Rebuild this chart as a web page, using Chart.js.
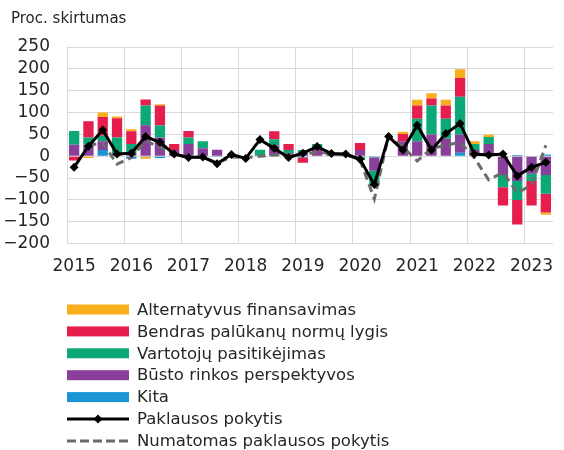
<!DOCTYPE html>
<html><head><meta charset="utf-8">
<script src="https://cdn.jsdelivr.net/npm/chart.js@4"></script>
<style>html,body{margin:0;padding:0;background:#fff;}#wrap{width:564px;height:450px;}</style>
</head><body><div id="wrap"><canvas id="c" width="564" height="450"></canvas></div>
<script>
// ---- data ----
const quarters = ['2015K1','2015K2','2015K3','2015K4','2016K1','2016K2','2016K3','2016K4','2017K1','2017K2','2017K3','2017K4','2018K1','2018K2','2018K3','2018K4','2019K1','2019K2','2019K3','2019K4','2020K1','2020K2','2020K3','2020K4','2021K1','2021K2','2021K3','2021K4','2022K1','2022K2','2022K3','2022K4','2023K1','2023K2'];
const yearLabels = ['2015','2016','2017','2018','2019','2020','2021','2022','2023'];
const yMin = -200, yMax = 250, yStep = 50;

const kita     = [0,0,14,0,-6,-2,-4,0,0,0,-2,0,0,0,0,0,-3,0,0,0,0,-3,0,0,0,0,0,8,0,0,0,3,0,4];
const busto    = [26,27,20,7,7,71,43,14,28,18,15,0,0,0,25,7,7,18,5,3,14,-30,0,34,34,50,40,41,14,28,-43,-57,-40,-43];
const vartotoju= [32,16,13,36,21,45,28,0,15,16,0,0,0,15,14,7,7,10,3,0,-8,-35,0,0,52,66,46,87,14,16,-28,-43,-17,-43];
const bendras  = [-10,37,43,44,29,14,45,14,15,0,0,0,0,0,18,14,-12,0,0,0,16,0,0,17,30,16,30,43,0,0,-42,-56,-56,-43];
const alternatyvus = [0,-4,10,4,5,-4,3,0,0,0,0,0,0,0,0,0,0,0,0,0,0,0,0,5,13,12,13,20,6,5,0,0,0,-5];
const paklausa = [-25,23,60,5,7,45,32,5,-3,-2,-17,4,-5,38,18,-3,7,22,6,5,-7,-65,45,14,71,14,52,75,5,3,5,-45,-25,-14];
const numatomas = [null,25,30,-18,-3,35,20,5,-3,-2,-15,-2,-3,0,3,2,3,10,5,3,-8,-98,48,21,-11,18,25,32,-4,-54,-37,-84,-66,25];

const seriesNames = {
  alt:'Alternatyvus finansavimas', bendras:'Bendras palūkanų normų lygis', vart:'Vartotojų pasitikėjimas',
  busto:'Būsto rinkos perspektyvos', kita:'Kita', pakl:'Paklausos pokytis', num:'Numatomas paklausos pokytis'
};
const FONT = "'DejaVu Sans', Verdana, sans-serif";
const TXT = '#262626';

const C = {alt:'#F9AE1B', bendras:'#E51E4D', vart:'#0DA877', busto:'#8A3F9B', kita:'#1A94D4'};

const bar = (label, data, color) => ({type:'bar', label, data, backgroundColor: color, borderWidth:0, stack:'s', barPercentage:0.72, categoryPercentage:1.0});

const datasets = [
  bar(seriesNames.kita, kita, C.kita),
  bar(seriesNames.busto, busto, C.busto),
  bar(seriesNames.vart, vartotoju, C.vart),
  bar(seriesNames.bendras, bendras, C.bendras),
  bar(seriesNames.alt, alternatyvus, C.alt),
  {type:'line', label: seriesNames.pakl, data: paklausa, borderColor:'#000', backgroundColor:'#000', borderWidth:3,
   pointStyle:'rectRot', pointRadius:4.5, pointBackgroundColor:'#000', pointBorderWidth:0, stack:'l1', order:-2, tension:0},
  {type:'line', label: seriesNames.num, data: numatomas, borderColor:'#6b6b6b', backgroundColor:'#6b6b6b', borderWidth:3,
   borderDash:[8,5], pointRadius:0, stack:'l2', order:-1, tension:0, spanGaps:false}
];
const legendOrder = [4,3,2,1,0,5,6];

const titlePlugin = {
  id:'titleText',
  afterDraw(chart){
    const ctx = chart.ctx; ctx.save();
    ctx.font = '15px ' + FONT; ctx.fillStyle = TXT; ctx.textBaseline='middle'; ctx.textAlign='left';
    ctx.fillText('Proc. skirtumas', 11, 19);
    ctx.restore();
  }
};
const legendPlugin = {
  id:'colLegend',
  afterDraw(chart){
    const ctx = chart.ctx; ctx.save();
    const x0 = 67, w = 62, h = 10, tx = 137, y0 = 309.5, step = 21.9;
    ctx.font = '16.5px ' + FONT; ctx.textBaseline='middle'; ctx.textAlign='left';
    legendOrder.forEach((di, i) => {
      const ds = chart.data.datasets[di]; const y = y0 + i*step;
      if (ds.type === 'bar') {
        ctx.fillStyle = ds.backgroundColor; ctx.fillRect(x0, y - h/2, w, h);
      } else {
        ctx.strokeStyle = ds.borderColor; ctx.lineWidth = 3;
        ctx.setLineDash(ds.borderDash ? [9,4] : []);
        ctx.beginPath(); ctx.moveTo(x0, y); ctx.lineTo(x0 + w, y); ctx.stroke();
        ctx.setLineDash([]);
        if (!ds.borderDash) {
          ctx.fillStyle = '#000'; ctx.beginPath();
          const cx = x0 + w/2, r = 4.5;
          ctx.moveTo(cx, y - r); ctx.lineTo(cx + r, y); ctx.lineTo(cx, y + r); ctx.lineTo(cx - r, y); ctx.closePath(); ctx.fill();
        }
      }
      ctx.fillStyle = TXT; ctx.fillText(ds.label, tx, y + 1);
    });
    ctx.restore();
  }
};

new Chart(document.getElementById('c'), {
  data: { labels: quarters, datasets },
  options: {
    responsive:false, animation:false, devicePixelRatio:1,
    layout:{ padding:{ left:0, right:11, top:47, bottom:160 } },
    plugins:{ legend:{display:false}, tooltip:{enabled:false}, title:{display:false} },
    scales:{
      x:{ type:'category', offset:true, stacked:true,
          grid:{ offset:true, drawTicks:false, lineWidth:1,
                 color:(c)=> (c.index % 4 === 0 && c.index < quarters.length) ? '#d9d9d9' : 'rgba(0,0,0,0)' },
          border:{ display:false },
          ticks:{ autoSkip:false, maxRotation:0, minRotation:0, padding:13, color:TXT, font:{family:FONT, size:17},
                  callback:(v, i)=> i % 4 === 0 ? yearLabels[i/4] : '' } },
      y:{ stacked:true, min:yMin, max:yMax,
          afterFit:(s)=>{ s.width = 67; },
          grid:{ color:'#d9d9d9', lineWidth:1, drawTicks:false },
          border:{ display:true, color:'#d9d9d9' },
          ticks:{ stepSize:yStep, autoSkip:false, padding:17, color:TXT, font:{family:FONT, size:17},
                  callback:(v)=> v < 0 ? '\u2212' + Math.abs(v) : String(v) } }
    }
  },
  plugins:[titlePlugin, legendPlugin]
});
</script></body></html>
